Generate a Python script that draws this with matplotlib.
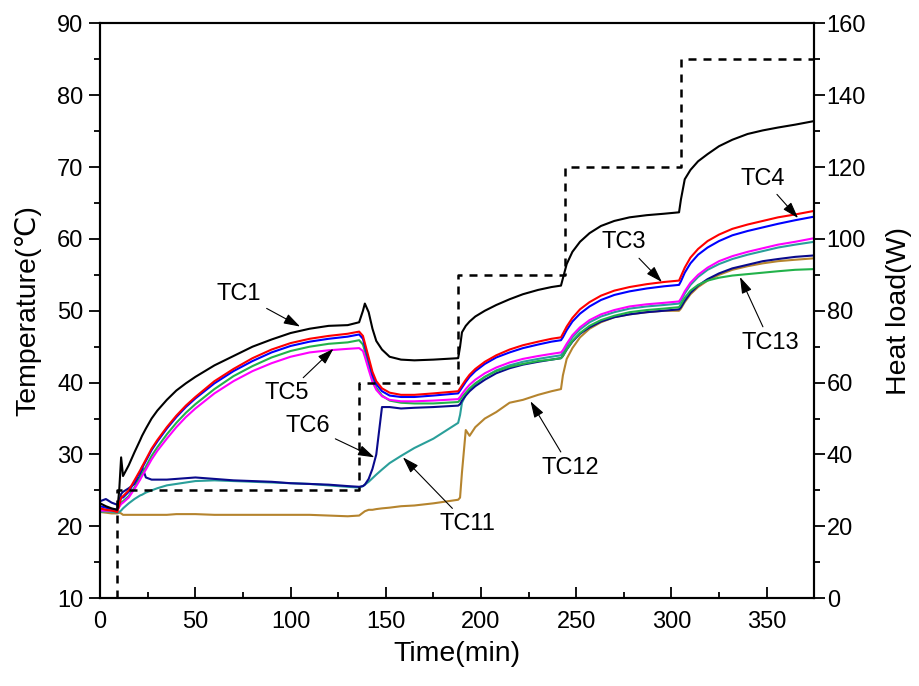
import matplotlib
matplotlib.use("Agg")
import matplotlib.pyplot as plt
from matplotlib.ticker import MultipleLocator

plt.rcParams["font.family"] = ["Liberation Sans", "DejaVu Sans"]

# sample times (min), shared by every thermocouple trace
time_min = [0, 3, 6, 9, 10, 11, 12, 15, 18, 21, 22, 24, 27, 30, 35, 40, 45, 50,
            60, 70, 80, 90, 100, 110, 120, 130, 136, 138, 139, 141, 143, 145,
            148, 152, 158, 165, 175, 188, 189, 190, 192, 194, 197, 202, 208,
            215, 222, 230, 237, 242, 243, 245, 248, 252, 257, 263, 270, 278,
            287, 296, 304, 305, 307, 310, 314, 319, 325, 332, 340, 348, 356,
            365, 375]

tc1 = [23.2, 22.8, 22.5, 22.3, 25.0, 29.6, 27.0, 28.5, 30.3, 32.0, 32.6, 33.6,
       35.0, 36.1, 37.6, 38.9, 39.9, 40.8, 42.4, 43.7, 45.0, 46.0, 46.9, 47.5,
       47.9, 48.0, 48.4, 50.0, 51.0, 49.8, 47.5, 45.8, 44.6, 43.6, 43.2, 43.1,
       43.2, 43.4, 45.0, 47.0, 47.9, 48.5, 49.2, 50.0, 50.8, 51.6, 52.3, 52.9,
       53.3, 53.5, 54.5, 56.5, 58.2, 59.6, 60.8, 61.8, 62.5, 63.0, 63.3, 63.5,
       63.7, 65.5, 68.3, 69.6, 70.8, 71.8, 72.9, 73.8, 74.6, 75.1, 75.5, 75.9,
       76.4]

tc3 = [22.5, 22.3, 22.2, 22.0, 23.0, 24.0, 24.2, 25.0, 26.4, 27.8, 28.3, 29.3,
       30.8, 32.0, 33.8, 35.4, 36.8, 38.0, 40.2, 41.9, 43.4, 44.6, 45.5, 46.1,
       46.5, 46.8, 47.1, 46.5, 45.5, 43.5, 41.5, 40.2, 39.2, 38.6, 38.3, 38.3,
       38.5, 38.8, 39.2, 39.6, 40.4, 41.1, 41.9, 42.9, 43.8, 44.6, 45.2, 45.7,
       46.1, 46.3, 46.8, 47.8, 49.0, 50.2, 51.2, 52.1, 52.8, 53.3, 53.7, 54.0,
       54.2, 54.8, 56.0, 57.4, 58.6, 59.7, 60.6, 61.4, 62.0, 62.5, 63.0, 63.4,
       63.9]

tc4 = [22.8, 22.6, 22.4, 22.3, 23.2, 24.0, 24.0, 24.8, 26.2, 27.6, 28.1, 29.1,
       30.6, 31.8, 33.6, 35.2, 36.6, 37.8, 39.9, 41.6, 43.0, 44.2, 45.1, 45.7,
       46.1, 46.4, 46.7, 46.1, 45.1, 43.1, 41.1, 39.8, 38.8, 38.2, 38.0, 38.0,
       38.2, 38.5, 38.9, 39.3, 40.1, 40.8, 41.6, 42.6, 43.5, 44.2, 44.8, 45.3,
       45.7, 45.9, 46.3, 47.3, 48.5, 49.6, 50.6, 51.5, 52.2, 52.7, 53.1, 53.4,
       53.6, 54.1, 55.3, 56.6, 57.8, 58.8, 59.7, 60.5, 61.1, 61.6, 62.1, 62.6,
       63.1]

tc13 = [22.3, 22.3, 22.3, 22.3, 22.8, 23.3, 23.5, 24.2, 25.4, 26.8, 27.3, 28.3,
        29.8, 31.0, 32.8, 34.4, 35.8, 37.0, 39.1, 40.9, 42.3, 43.5, 44.4, 45.0,
        45.4, 45.6, 45.9, 45.3, 44.4, 42.5, 40.6, 39.3, 38.2, 37.5, 37.2, 37.1,
        37.1, 37.3, 37.6, 38.0, 38.6, 39.2, 39.9, 40.8, 41.6, 42.2, 42.6, 43.0,
        43.2, 43.4, 43.7, 44.6, 45.8, 46.9, 47.9, 48.7, 49.3, 49.8, 50.1, 50.3,
        50.5, 50.9, 51.8, 52.8, 53.6, 54.2, 54.6, 54.9, 55.1, 55.3, 55.5, 55.7,
        55.8]

tc5 = [22.2, 22.2, 22.2, 22.2, 22.7, 23.1, 23.3, 24.0, 25.2, 26.5, 27.0, 27.9,
       29.3, 30.5, 32.2, 33.8, 35.2, 36.4, 38.5, 40.2, 41.6, 42.7, 43.6, 44.2,
       44.5, 44.7, 44.8, 44.4, 43.6, 41.8, 40.1, 39.0, 38.1, 37.6, 37.4, 37.4,
       37.5, 37.7, 38.0, 38.4, 39.1, 39.7, 40.4, 41.3, 42.1, 42.8, 43.3, 43.7,
       44.0, 44.2, 44.5, 45.4, 46.6, 47.7, 48.7, 49.5, 50.1, 50.6, 50.9, 51.1,
       51.3, 51.7, 52.7, 53.9, 55.0, 56.0, 56.9, 57.6, 58.2, 58.7, 59.2, 59.6,
       60.1]

tc11 = [22.0, 22.1, 22.0, 21.9, 22.0, 22.2, 22.5, 23.2, 23.8, 24.3, 24.4, 24.7,
        25.0, 25.3, 25.7, 25.9, 26.1, 26.3, 26.4, 26.3, 26.2, 26.1, 26.0, 25.9,
        25.7, 25.5, 25.4, 25.6, 25.8, 26.2, 26.7, 27.2, 27.9, 28.8, 29.8, 30.9,
        32.2, 34.4, 35.5, 37.2, 38.3, 39.0, 39.8, 40.8, 41.7, 42.4, 42.9, 43.3,
        43.6, 43.8, 44.2, 45.1, 46.3, 47.4, 48.4, 49.2, 49.8, 50.3, 50.6, 50.8,
        51.0, 51.4, 52.4, 53.6, 54.7, 55.7, 56.5, 57.2, 57.8, 58.3, 58.8, 59.2,
        59.6]

tc6 = [23.5, 23.8, 23.3, 23.0, 23.5, 24.5, 24.8, 25.3, 25.9, 27.0, 28.3, 26.8,
       26.5, 26.5, 26.5, 26.6, 26.7, 26.8, 26.6, 26.4, 26.3, 26.2, 26.0, 25.9,
       25.8, 25.6, 25.5, 25.6, 25.8, 26.6, 28.0, 30.0, 36.6, 36.6, 36.4, 36.5,
       36.6, 36.8, 37.0, 37.5, 38.2, 38.8, 39.5, 40.4, 41.3, 42.0, 42.5, 42.9,
       43.2, 43.4, 43.7, 44.6, 45.7, 46.8, 47.7, 48.5, 49.1, 49.5, 49.8, 50.0,
       50.2, 50.5, 51.4, 52.5, 53.5, 54.4, 55.2, 55.9, 56.4, 56.9, 57.2, 57.5,
       57.7]

tc12 = [22.0, 21.9, 21.8, 21.8, 21.9, 21.8, 21.6, 21.6, 21.6, 21.6, 21.6, 21.6,
        21.6, 21.6, 21.6, 21.7, 21.7, 21.7, 21.6, 21.6, 21.6, 21.6, 21.6, 21.6,
        21.5, 21.4, 21.5, 21.9, 22.1, 22.3, 22.3, 22.4, 22.5, 22.6, 22.8, 22.9,
        23.2, 23.7, 24.0, 27.5, 33.4, 32.6, 33.8, 35.0, 35.9, 37.2, 37.6, 38.3,
        38.8, 39.1, 41.0, 43.3, 44.8, 46.3, 47.5, 48.4, 49.1, 49.5, 49.8, 50.0,
        50.0, 50.3, 51.2, 52.3, 53.3, 54.2, 55.0, 55.7, 56.2, 56.6, 56.9, 57.1,
        57.3]

# heat load steps: switch-on times (min) and the load held from each (W)
load_time = [9, 9, 136, 188, 244, 305, 375]
load_watts = [0, 30, 60, 90, 120, 150, 150]

traces = [
    (tc12, "#b5842e"),
    (tc11, "#2a9f9a"),
    (tc6, "#0a0a8c"),
    (tc13, "#22b24a"),
    (tc5, "#ff00ff"),
    (tc4, "#0000ff"),
    (tc3, "#ff0000"),
    (tc1, "#000000"),
]

# label text, arrow head (x, y) and text position (x, y)
callouts = [
    ("TC1", (105, 47.8), (73, 52.4)),
    ("TC5", (122.5, 44.7), (98, 38.5)),
    ("TC6", (144, 29.6), (109, 34.0)),
    ("TC11", (159, 29.6), (193, 20.3)),
    ("TC12", (226, 37.4), (247, 28.1)),
    ("TC3", (295, 54.0), (275, 59.5)),
    ("TC4", (366.5, 62.9), (348, 68.4)),
    ("TC13", (336, 54.7), (352, 45.5)),
]

fig, ax = plt.subplots(figsize=(9.19, 6.86), dpi=100)
fig.subplots_adjust(left=0.109, right=0.886, bottom=0.128, top=0.966)
ax2 = ax.twinx()

for values, color in traces:
    ax.plot(time_min, values, color=color, lw=1.5)

ax2.step(load_time, load_watts, where="post", color="black", lw=1.8,
         linestyle=(0, (3.2, 2.8)))

for text, head, pos in callouts:
    ax.annotate(text, xy=head, xytext=pos, fontsize=17, ha="center",
                va="center",
                arrowprops=dict(arrowstyle="-|>,head_length=0.5,head_width=0.16",
                                color="black", lw=0.8, shrinkA=2, shrinkB=0,
                                mutation_scale=20))

ax.set_xlim(0, 375)
ax.set_ylim(10, 90)
ax2.set_ylim(0, 160)
ax.xaxis.set_major_locator(MultipleLocator(50))
ax.xaxis.set_minor_locator(MultipleLocator(25))
ax.yaxis.set_major_locator(MultipleLocator(10))
ax.yaxis.set_minor_locator(MultipleLocator(5))
ax2.yaxis.set_major_locator(MultipleLocator(20))
ax2.yaxis.set_minor_locator(MultipleLocator(10))

for spine in list(ax.spines.values()) + list(ax2.spines.values()):
    spine.set_linewidth(1.5)

ax.tick_params(axis="x", which="major", direction="in", length=8, width=1.3,
               labelsize=17, pad=9, top=False)
ax.tick_params(axis="x", which="minor", direction="in", length=4.5, width=1.3,
               top=False)
ax.tick_params(axis="y", which="major", direction="out", length=8, width=1.3,
               labelsize=17, pad=4)
ax.tick_params(axis="y", which="minor", direction="out", length=4, width=1.3)
ax2.tick_params(axis="y", which="major", direction="out", length=8, width=1.3,
                labelsize=17, pad=1)
ax2.tick_params(axis="y", which="minor", direction="out", length=4, width=1.3)

ax.set_xlabel("Time(min)", fontsize=20.5, labelpad=6)
ax.set_ylabel("Temperature(℃)", fontsize=20.5)
ax.yaxis.set_label_coords(-0.083, 0.5)
ax2.set_ylabel("Heat load(W)", fontsize=20.5, labelpad=14)

fig.savefig("out.png", dpi=100)
